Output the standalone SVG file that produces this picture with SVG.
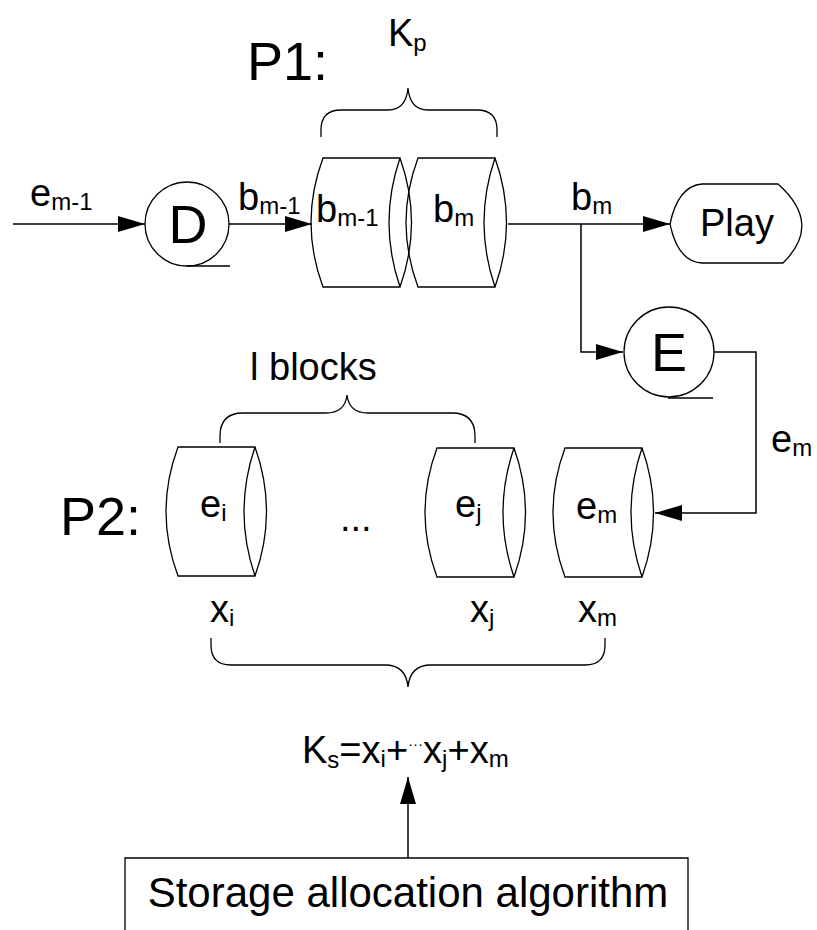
<svg xmlns="http://www.w3.org/2000/svg" xmlns:xlink="http://www.w3.org/1999/xlink" width="817" height="930" viewBox="0 0 817 930">
<style>
text{font-family:"Liberation Sans",Arial,sans-serif;fill:#000}
.l{font-size:38px}
.big{font-size:54px}
.s{font-size:24px}
.shape{fill:none;stroke:#000;stroke-width:1.3}
.conn{fill:none;stroke:#000;stroke-width:1.5}
</style>
<defs>
<marker id="ah" viewBox="0 0 27 16" refX="27" refY="8" markerWidth="27" markerHeight="16" markerUnits="userSpaceOnUse" orient="auto">
<path d="M0,0 L27,8 L0,16 z" fill="#000"/>
</marker>
<g id="cyl">
<path class="shape" d="M0,0 H77 Q100,64.5 77,129 H0 Q-24,64.5 0,0 Z"/>
<path class="shape" d="M77,0 Q55,64.5 77,129"/>
</g>
</defs>
<rect width="817" height="930" fill="#fff"/>

<g id="labels-p">
<text class="big" x="247" y="80">P1:</text>
<text class="big" x="60" y="535">P2:</text>
</g>

<g id="brace-kp">
<path class="shape" d="M321,137 V130 Q321,110 341,110 H388 Q406,110 408,88 Q410,110 428,110 H477 Q497,110 497,130 V137"/>
<text class="l" x="388" y="46">K<tspan class="s" dy="5">p</tspan></text>
</g>

<g id="node-D">
<circle class="shape" cx="187" cy="224" r="42"/>
<line class="shape" x1="187" y1="266" x2="230" y2="266"/>
<text class="big" x="188" y="243" text-anchor="middle">D</text>
</g>

<g id="node-buf1">
<use xlink:href="#cyl" x="323" y="158"/>
<text class="l" x="316" y="222">b<tspan class="s" dy="4">m-1</tspan></text>
</g>
<g id="node-buf2">
<use xlink:href="#cyl" x="418" y="158"/>
<text class="l" x="433" y="222">b<tspan class="s" dy="4">m</tspan></text>
</g>

<g id="node-play">
<path class="shape" d="M670,224 Q678,186 702,184 H778 Q823,224 783,263 H702 Q678,262 670,224 Z"/>
<text class="l" x="700" y="236">Play</text>
</g>

<g id="node-E">
<circle class="shape" cx="669" cy="352" r="45"/>
<line class="shape" x1="668" y1="398" x2="713" y2="398"/>
<text class="big" x="669" y="371" text-anchor="middle">E</text>
</g>

<g id="brace-blocks">
<path class="shape" d="M220,443 V436 Q220,413 243,413 H326 Q345,413 347,395 Q349,413 368,413 H452 Q475,413 475,436 V443"/>
<text class="l" x="250" y="380">l blocks</text>
</g>

<g id="node-ei">
<use xlink:href="#cyl" x="178" y="447"/>
<text class="l" x="200" y="517">e<tspan class="s" dy="4">i</tspan></text>
</g>
<g id="dots">
<text class="l" x="340" y="531">...</text>
</g>
<g id="node-ej">
<use xlink:href="#cyl" x="437" y="448"/>
<text class="l" x="455" y="517">e<tspan class="s" dy="4">j</tspan></text>
</g>
<g id="node-em">
<use xlink:href="#cyl" x="565" y="448"/>
<text class="l" x="576" y="519">e<tspan class="s" dy="4">m</tspan></text>
</g>

<g id="x-labels">
<text class="l" x="210" y="622">x<tspan class="s" dy="4">i</tspan></text>
<text class="l" x="470" y="622">x<tspan class="s" dy="4">j</tspan></text>
<text class="l" x="578" y="622">x<tspan class="s" dy="4">m</tspan></text>
</g>

<g id="brace-sum">
<path class="shape" d="M211,638 V645 Q211,665 231,665 H385 Q406,665 408,687 Q410,665 431,665 H585 Q605,665 605,645 V638"/>
</g>

<g id="formula">
<text class="l" x="302" y="763">K<tspan class="s" dy="5">s</tspan><tspan dy="-5">=x</tspan><tspan class="s" dy="4">i</tspan><tspan dy="-4">+</tspan><tspan font-size="15" dy="-14">···</tspan><tspan dy="14">x</tspan><tspan class="s" dy="4">j</tspan><tspan dy="-4">+x</tspan><tspan class="s" dy="4">m</tspan></text>
</g>

<g id="node-storage">
<path class="shape" d="M125,935 V858 H688 V935"/>
<text x="408" y="907" font-size="42" text-anchor="middle">Storage allocation algorithm</text>
</g>

<g id="connectors">
<line class="conn" x1="13" y1="224" x2="145" y2="224" marker-end="url(#ah)"/>
<line class="conn" x1="229" y1="224" x2="312" y2="224" marker-end="url(#ah)"/>
<line class="conn" x1="508" y1="224" x2="670" y2="224" marker-end="url(#ah)"/>
<polyline class="conn" points="581,224 581,352 623,352" marker-end="url(#ah)"/>
<polyline class="conn" points="714,352 756,352 756,513 655,513" marker-end="url(#ah)"/>
<line class="conn" x1="408" y1="858" x2="408" y2="777" marker-end="url(#ah)"/>
</g>

<g id="connector-labels">
<text class="l" x="30" y="206">e<tspan class="s" dy="4">m-1</tspan></text>
<text class="l" x="238" y="210">b<tspan class="s" dy="4">m-1</tspan></text>
<text class="l" x="571" y="210">b<tspan class="s" dy="4">m</tspan></text>
<text class="l" x="771" y="452">e<tspan class="s" dy="4">m</tspan></text>
</g>
</svg>
